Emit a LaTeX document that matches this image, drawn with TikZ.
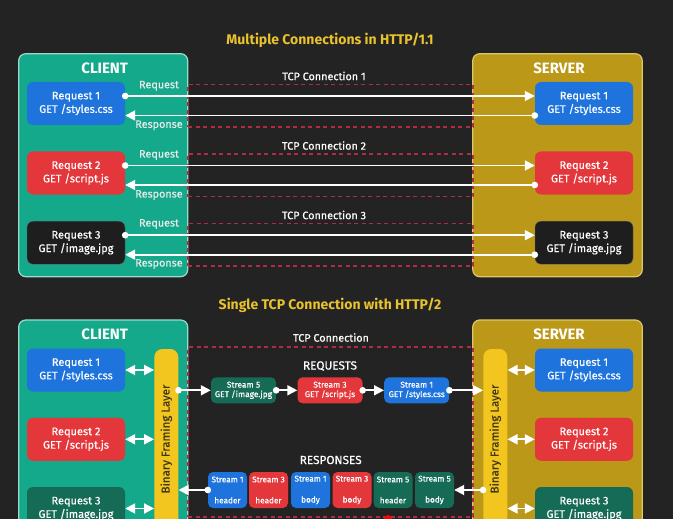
\documentclass[tikz,border=0pt]{standalone}
\usepackage{fontspec}
\setmainfont{Fira Sans}
\newfontfamily\mfont{Fira Sans}[FakeBold=0.5]
\usetikzlibrary{arrows.meta,calc}
\definecolor{bg}{HTML}{232323}
\definecolor{teal1}{HTML}{13A98A}
\definecolor{tealedge}{HTML}{9ADCCB}
\definecolor{gold1}{HTML}{BB9818}
\definecolor{goldedge}{HTML}{DCC86A}
\definecolor{blu}{HTML}{1E74DC}
\definecolor{rd}{HTML}{E4373B}
\definecolor{blk}{HTML}{1E1E1E}
\definecolor{dgreen}{HTML}{166B56}
\definecolor{ybar}{HTML}{F3C61F}
\definecolor{ytitle}{HTML}{E9C22D}
\definecolor{dashred}{HTML}{B02C45}
\definecolor{bartext}{HTML}{3F3718}
\begin{document}
\begin{tikzpicture}[x=1pt,y=-1pt,
  panel/.style={draw, line width=1.2pt, rounded corners=7pt, inner sep=0pt},
  ptitle/.style={text=white, font=\bfseries\fontsize{15}{17}\selectfont},
  rbox/.style={rounded corners=6pt, minimum width=98pt, minimum height=43pt, inner sep=0pt, text=white, align=center, font=\mfont\fontsize{11}{13.5}\selectfont},
  sbox/.style={rounded corners=5pt, minimum width=65pt, minimum height=26pt, inner sep=0pt, text=white, align=center, font=\mfont\fontsize{8.4}{9.5}\selectfont},
  pbox/.style={rounded corners=5pt, minimum width=39pt, minimum height=36pt, inner sep=0pt, text=white, align=center, font=\mfont\fontsize{8.2}{9}\selectfont},
  barbox/.style={fill=ybar, rounded corners=8pt, minimum width=24pt, minimum height=180pt, inner sep=0pt},
  bartxt/.style={rotate=90, text=bartext, font=\mfont\fontsize{11.5}{13}\selectfont},
  tcpbox/.style={draw=dashred, dash pattern=on 4pt off 3.5pt, line width=1.4pt, inner sep=0pt},
  lbl/.style={text=white!92!black, font=\mfont\fontsize{10.8}{12}\selectfont},
  seclbl/.style={text=white, font=\mfont\fontsize{10.8}{12}\selectfont},
  biglbl/.style={text=white, font=\mfont\fontsize{11.8}{13}\selectfont},
  heading/.style={text=ytitle, font=\bfseries\fontsize{14}{16}\selectfont},
  wline/.style={draw=white, line width=1.8pt},
  arr/.style={wline, {Circle[length=6.5pt]}-{Triangle[length=10pt,width=10pt]}, shorten <=-3.25pt},
  darr/.style={wline, {Triangle[length=10pt,width=10pt]}-{Triangle[length=10pt,width=10pt]}},
]
\fill[bg] (0,0) rectangle (673,519);
\useasboundingbox (0,0) rectangle (673,519);

% ---------- HTTP/1.1 ----------
\node[heading] (t1) at (330,40) {Multiple Connections in HTTP/1.1};
\node[panel, draw=tealedge, fill=teal1, minimum width=169pt, minimum height=223pt] (cp1) at (103.2,165.2) {};
\node[panel, draw=goldedge, fill=gold1, minimum width=169.5pt, minimum height=223pt] (sp1) at (557.5,165.2) {};
\node[ptitle] (cl1) at (104.7,68) {CLIENT};
\node[ptitle] (sv1) at (559,68) {SERVER};

\node[tcpbox, minimum width=285pt, minimum height=42.3pt] (tcp1) at (330.5,105.85) {};
\node[tcpbox, minimum width=285pt, minimum height=42.7pt] (tcp2) at (330.5,175.35) {};
\node[tcpbox, minimum width=285pt, minimum height=42.7pt] (tcp3) at (330.5,244.65) {};
\node[seclbl] (tl1) at (324,76) {TCP Connection 1};
\node[seclbl] (tl2) at (324,145.5) {TCP Connection 2};
\node[seclbl] (tl3) at (324,215) {TCP Connection 3};

\node[rbox, fill=blu] (c1) at (76,103.5) {Request 1\\GET /styles.css};
\node[rbox, fill=rd] (c2) at (76,173) {Request 2\\GET /script.js};
\node[rbox, fill=blk, draw=black!60] (c3) at (76,242.7) {Request 3\\GET /image.jpg};
\node[rbox, fill=blu] (s1) at (584,103.5) {Request 1\\GET /styles.css};
\node[rbox, fill=rd] (s2) at (584,173) {Request 2\\GET /script.js};
\node[rbox, fill=blk, draw=black!60] (s3) at (584,242.7) {Request 3\\GET /image.jpg};

\node[lbl] (rq1) at (159,85.7) {Request};
\node[lbl] (rs1) at (159,125.3) {Response};
\node[lbl] (rq2) at (159,155) {Request};
\node[lbl] (rs2) at (159,195) {Response};
\node[lbl] (rq3) at (159,224) {Request};
\node[lbl] (rs3) at (159,264) {Response};

\foreach \i in {1,2,3}{
  \draw[arr] ([yshift=7.5pt]c\i.east) -- ([yshift=7.5pt]s\i.west);
  \draw[arr] ([yshift=-12pt]s\i.west) -- ([yshift=-12pt]c\i.east);
}

% ---------- HTTP/2 ----------
\node[heading] (t2) at (330,305) {Single TCP Connection with HTTP/2};
\node[panel, draw=tealedge, fill=teal1, minimum width=169pt, minimum height=240pt] (cp2) at (103.2,440) {};
\node[panel, draw=goldedge, fill=gold1, minimum width=169.5pt, minimum height=240pt] (sp2) at (557.5,440) {};
\node[ptitle] (cl2) at (104.7,334) {CLIENT};
\node[ptitle] (sv2) at (559,334) {SERVER};

\node[tcpbox, minimum width=285pt, minimum height=170pt] (tcp4) at (330.5,432) {};
\node[seclbl] (tl4) at (331,337.5) {TCP Connection};

\node[barbox] (cbar) at (166.3,439) {};
\node[bartxt] (cbart) at (cbar.center) {Binary Framing Layer};
\node[barbox] (sbar) at (495.3,439) {};
\node[bartxt] (sbart) at (sbar.center) {Binary Framing Layer};

\node[rbox, fill=blu] (cb1) at (76,370) {Request 1\\GET /styles.css};
\node[rbox, fill=rd] (cb2) at (76,439.3) {Request 2\\GET /script.js};
\node[rbox, fill=dgreen] (cb3) at (76,508.5) {Request 3\\GET /image.jpg};
\node[rbox, fill=blu] (sb1) at (584,370) {Request 1\\GET /styles.css};
\node[rbox, fill=rd] (sb2) at (584,439.3) {Request 2\\GET /script.js};
\node[rbox, fill=dgreen] (sb3) at (584,508.5) {Request 3\\GET /image.jpg};

\foreach \i in {1,2,3}{
  \draw[darr] (cb\i.east) -- (cb\i.east -| cbar.west);
  \draw[darr] (sbar.east |- sb\i.west) -- (sb\i.west);
}

\node[biglbl] (reqs) at (330,366) {REQUESTS};
\node[sbox, fill=dgreen] (st5) at (243.5,390.3) {Stream 5\\GET /image.jpg};
\node[sbox, fill=rd] (st3) at (330,390.3) {Stream 3\\GET /script.js};
\node[sbox, fill=blu] (st1) at (416.7,390.3) {Stream 1\\GET /styles.css};
\draw[arr] (cbar.east |- st5.west) -- (st5.west);
\draw[arr] (st5.east) -- (st3.west);
\draw[arr] (st3.east) -- (st1.west);
\draw[arr] (st1.east) -- (st1.east -| sbar.west);

\node[biglbl] (resps) at (330.7,460) {RESPONSES};
\node[pbox, fill=blu] (r1) at (227.5,490) {Stream 1\\[12pt]header};
\node[pbox, fill=rd] (r2) at (268.5,490) {Stream 3\\[12pt]header};
\node[pbox, fill=blu] (r3) at (310.5,490) {Stream 1\\[12pt]body};
\node[pbox, fill=rd] (r4) at (352,490) {Stream 3\\[12pt]body};
\node[pbox, fill=dgreen] (r5) at (393,490) {Stream 5\\[12pt]header};
\node[pbox, fill=dgreen] (r6) at (434.5,490) {Stream 5\\[12pt]body};
\draw[arr] (sbar.west |- r6.east) -- (r6.east);
\draw[arr] (r1.west) -- (r1.west -| cbar.east);

\fill[red] (388,519) circle (4pt);
\end{tikzpicture}
\end{document}
